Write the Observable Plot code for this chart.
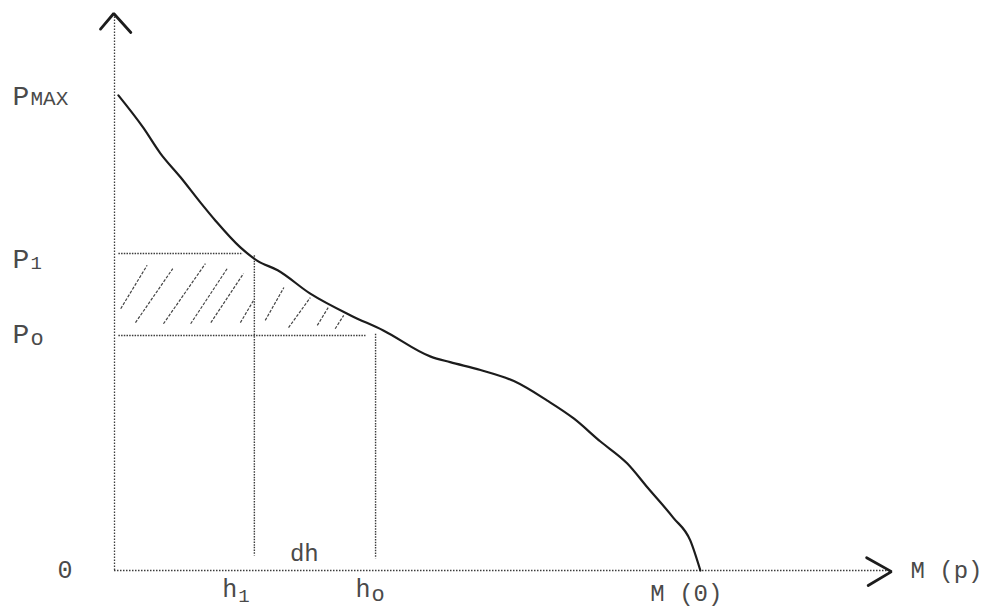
<!DOCTYPE html>
<html>
<head>
<meta charset="utf-8">
<script src="https://cdn.jsdelivr.net/npm/d3@7"></script>
<script src="https://cdn.jsdelivr.net/npm/@observablehq/plot@0.6"></script>
<style>
  html, body { margin: 0; padding: 0; background: #ffffff; }
  #chart svg { display: block; }
</style>
</head>
<body>
<div id="chart"></div>
<script>
// ---- Data (abstract units: x and y both 0..100 along the drawn axes) ----
const curveX = [0.5, 3.7, 5.9, 8.5, 11.1, 13.0, 16.2, 18.4, 21.0, 25.2, 30.4, 34.6, 40.7, 43.2, 47.1, 51.4, 55.7, 59.1, 62.5, 66.0, 68.6, 71.9, 74.1, 75.4];
const curveY = [85.3, 79.5, 74.9, 70.6, 66.0, 62.8, 58.0, 55.6, 53.9, 49.7, 45.8, 43.1, 38.4, 37.4, 36.0, 34.0, 30.5, 27.3, 23.2, 19.2, 14.9, 9.5, 5.4, 0];

// level values
const pMax = 85.3, p1 = 56.9, p0 = 42.2;
const h1 = 18.0, h0 = 33.6, mZero = 75.4;

// tick-like labels
const yLabelMain = ["P", "P", "P"];
const yLabelSub = ["MAX", "1", "o"];
const yLabelValue = [pMax, p1, p0];
const xLabelMain = ["h", "h"];
const xLabelSub = ["1", "o"];
const xLabelValue = [h1, h0];
const originLabel = "0";
const xAxisTitle = "M (p)";
const zeroLabel = "M (0)";
const widthLabel = "dh";

// dotted guide lines (x1, y1) -> (x2, y2)
const guideX1 = [0.5, 0.5, h1, h0];
const guideY1 = [p1, p0, 56.6, 42.5];
const guideX2 = [16.5, 32.3, h1, h0];
const guideY2 = [p1, p0, 2.7, 2.2];

// hand-drawn hatching strokes in the shaded band
const hatchX1 = [0.8, 2.7, 6.3, 9.8, 12.4, 16.2, 19.4, 22.4, 26.1, 28.4];
const hatchY1 = [47.0, 44.5, 44.3, 44.3, 44.5, 44.5, 44.9, 43.6, 44.0, 43.4];
const hatchX2 = [4.2, 7.5, 11.7, 14.5, 16.6, 17.9, 21.8, 25.2, 27.5, 29.5];
const hatchY2 = [54.8, 54.2, 55.1, 54.2, 53.3, 48.5, 50.8, 49.0, 47.2, 45.8];

// arrowheads at the end of each axis
const arrowId = ["y", "y", "y", "x", "x", "x"];
const arrowX = [-1.8, -0.1, 2.1, 96.8, 100, 97.0];
const arrowY = [97.2, 100, 96.6, 2.3, -0.2, -2.7];

// ---- Build tables ----
const curve = curveX.map((x, i) => ({x, y: curveY[i]}));
const guides = guideX1.map((x1, i) => ({x1, y1: guideY1[i], x2: guideX2[i], y2: guideY2[i]}));
const hatch = hatchX1.map((x1, i) => ({x1, y1: hatchY1[i], x2: hatchX2[i], y2: hatchY2[i]}));
const arrows = arrowX.map((x, i) => ({id: arrowId[i], x, y: arrowY[i]}));

const font = "'Liberation Mono', 'Courier New', monospace";
const ink = "#1c1c1c";
const dotInk = "#3c3c3c";
const typeInk = "#4a4a4a";

function label(txt, x, y, opts) {
  return Plot.text([txt], {
    x: () => x, y: () => y, text: d => d,
    textAnchor: "start", lineAnchor: "bottom",
    fontFamily: font, fill: typeInk, ...opts
  });
}

const plot = Plot.plot({
  width: 993,
  height: 609,
  marginLeft: 114,
  marginRight: 102,
  marginTop: 13,
  marginBottom: 39,
  x: {domain: [0, 100], axis: null},
  y: {domain: [0, 100], axis: null},
  style: {background: "#ffffff", overflow: "visible"},
  marks: [
    // axes (dotted)
    Plot.ruleX([0], {y1: 0, y2: 100, stroke: dotInk, strokeWidth: 1.3, strokeDasharray: "1.5,1.5"}),
    Plot.ruleY([0], {x1: 0, x2: 100, stroke: dotInk, strokeWidth: 1.3, strokeDasharray: "1.5,1.5"}),
    // arrowheads
    Plot.line(arrows, {x: "x", y: "y", z: "id", stroke: ink, strokeWidth: 2.8, strokeLinejoin: "miter"}),
    // dotted guides
    Plot.link(guides, {x1: "x1", y1: "y1", x2: "x2", y2: "y2", stroke: dotInk, strokeWidth: 1.4, strokeDasharray: "1.5,1.2"}),
    // hatching
    Plot.link(hatch, {x1: "x1", y1: "y1", x2: "x2", y2: "y2", stroke: "#444", strokeWidth: 1.2, strokeDasharray: "3,1.5"}),
    // curve
    Plot.line(curve, {x: "x", y: "y", curve: "monotone-x", stroke: ink, strokeWidth: 2.2}),
    // y labels
    label(yLabelMain[0], 0, yLabelValue[0], {dx: -102, dy: 10, fontSize: 28}),
    label(yLabelSub[0], 0, yLabelValue[0], {dx: -84, dy: 10, fontSize: 21}),
    label(yLabelMain[1], 0, yLabelValue[1], {dx: -102, dy: 14, fontSize: 28}),
    label(yLabelSub[1], 0, yLabelValue[1], {dx: -84, dy: 15, fontSize: 19}),
    label(yLabelMain[2], 0, yLabelValue[2], {dx: -102, dy: 8, fontSize: 28}),
    label(yLabelSub[2], 0, yLabelValue[2], {dx: -84, dy: 10, fontSize: 22}),
    // origin
    label(originLabel, 0, 0, {dx: -57, dy: 7, fontSize: 25}),
    // x labels
    label(xLabelMain[0], xLabelValue[0], 0, {dx: -32, dy: 26, fontSize: 25}),
    label(xLabelSub[0], xLabelValue[0], 0, {dx: -16, dy: 31, fontSize: 19}),
    label(xLabelMain[1], xLabelValue[1], 0, {dx: -20, dy: 26, fontSize: 25}),
    label(xLabelSub[1], xLabelValue[1], 0, {dx: -4, dy: 30, fontSize: 22}),
    label(widthLabel, (h1 + h0) / 2, 0, {dx: -25, dy: -10, fontSize: 24}),
    label(zeroLabel, mZero, 0, {dx: -50, dy: 30, fontSize: 24}),
    label(xAxisTitle, 100, 0, {dx: 19, dy: 7, fontSize: 24})
  ]
});

document.getElementById("chart").appendChild(plot);
</script>
</body>
</html>
